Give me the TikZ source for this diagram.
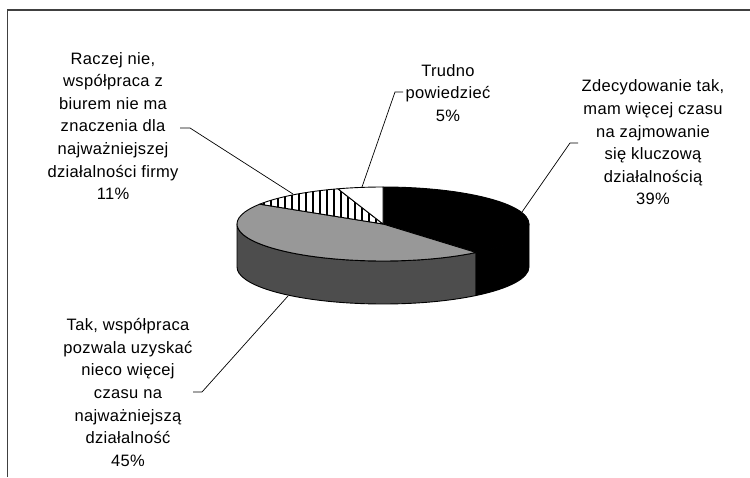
\documentclass[tikz,border=0pt]{standalone}
\usepackage{fontspec}
\setmainfont[LetterSpace=2]{Liberation Sans}
\begin{document}
\begin{tikzpicture}[x=1pt,y=1pt,
  lbl/.style={align=center,inner sep=0pt,font=\fontsize{16.5}{22.6}\selectfont},
  leader/.style={draw=black,line width=0.7pt},
  edge/.style={draw=black,line width=0.9pt,line join=round},
  frame/.style={draw=black!75,line width=1.6pt},
  pie/.style={x radius=146,y radius=37}]
\useasboundingbox (0,0) rectangle (750,477);
\definecolor{topgray}{RGB}{152,152,152}
\definecolor{sidegray}{RGB}{77,77,77}
% frame
\coordinate (f1) at (7.5,0);
\coordinate (f2) at (7.5,467);
\coordinate (f3) at (752,467);
\draw[frame] (f1) -- (f2) -- (f3);
% pie
\coordinate (C) at (383,253);
% side: gray part
\path[edge,fill=sidegray] ([shift={(C)}]180:146 and 37) arc[pie,start angle=180,end angle=309.6]
  -- ++(0,-43) arc[pie,start angle=309.6,end angle=180] -- cycle;
% side: black part
\path[edge,fill=black] ([shift={(C)}]309.6:146 and 37) arc[pie,start angle=309.6,end angle=360]
  -- ++(0,-43) arc[pie,start angle=360,end angle=309.6] -- cycle;
% top: black slice
\path[edge,fill=black] (C) -- ([shift={(C)}]90:146 and 37) arc[pie,start angle=90,end angle=-50.4] -- cycle;
% top: gray slice
\path[edge,fill=topgray] (C) -- ([shift={(C)}]-50.4:146 and 37) arc[pie,start angle=-50.4,end angle=-212.4] -- cycle;
% top: hatched slice
\path[fill=white] (C) -- ([shift={(C)}]147.6:146 and 37) arc[pie,start angle=147.6,end angle=108] -- cycle;
\begin{scope}
\clip (C) -- ([shift={(C)}]147.6:146 and 37) arc[pie,start angle=147.6,end angle=108] -- cycle;
\foreach \xx in {243,250,...,390} {\draw[line width=1.3pt] (\xx,200) -- (\xx,300);}
\end{scope}
\path[edge] (C) -- ([shift={(C)}]147.6:146 and 37) arc[pie,start angle=147.6,end angle=108] -- cycle;
% top: white slice
\path[edge,fill=white] (C) -- ([shift={(C)}]108:146 and 37) arc[pie,start angle=108,end angle=90] -- cycle;
% labels
\node[lbl] (l1) at (113,351) {Raczej nie,\\współpraca z\\biurem nie ma\\znaczenia dla\\najważniejszej\\działalności firmy\\11\%};
\node[lbl] (l2) at (448,384) {Trudno\\powiedzieć\\5\%};
\node[lbl] (l3) at (653,334.5) {Zdecydowanie tak,\\mam więcej czasu\\na zajmowanie\\się kluczową\\działalnością\\39\%};
\node[lbl] (l4) at (128,84.5) {Tak, współpraca\\pozwala uzyskać\\nieco więcej\\czasu na\\najważniejszą\\działalność\\45\%};
% leaders
\coordinate (a1) at (180,349); \coordinate (b1) at (190,349); \coordinate (p1) at (293,283);
\coordinate (a2) at (403,385); \coordinate (b2) at (395,385); \coordinate (p2) at (362,290);
\coordinate (a3) at (578,334); \coordinate (b3) at (570,334); \coordinate (p3) at (522,265);
\coordinate (a4) at (193,85);  \coordinate (b4) at (202,85);  \coordinate (p4) at (288,181);
\draw[leader] (a1) -- (b1) -- (p1);
\draw[leader] (a2) -- (b2) -- (p2);
\draw[leader] (a3) -- (b3) -- (p3);
\draw[leader] (a4) -- (b4) -- (p4);
\end{tikzpicture}
\end{document}
